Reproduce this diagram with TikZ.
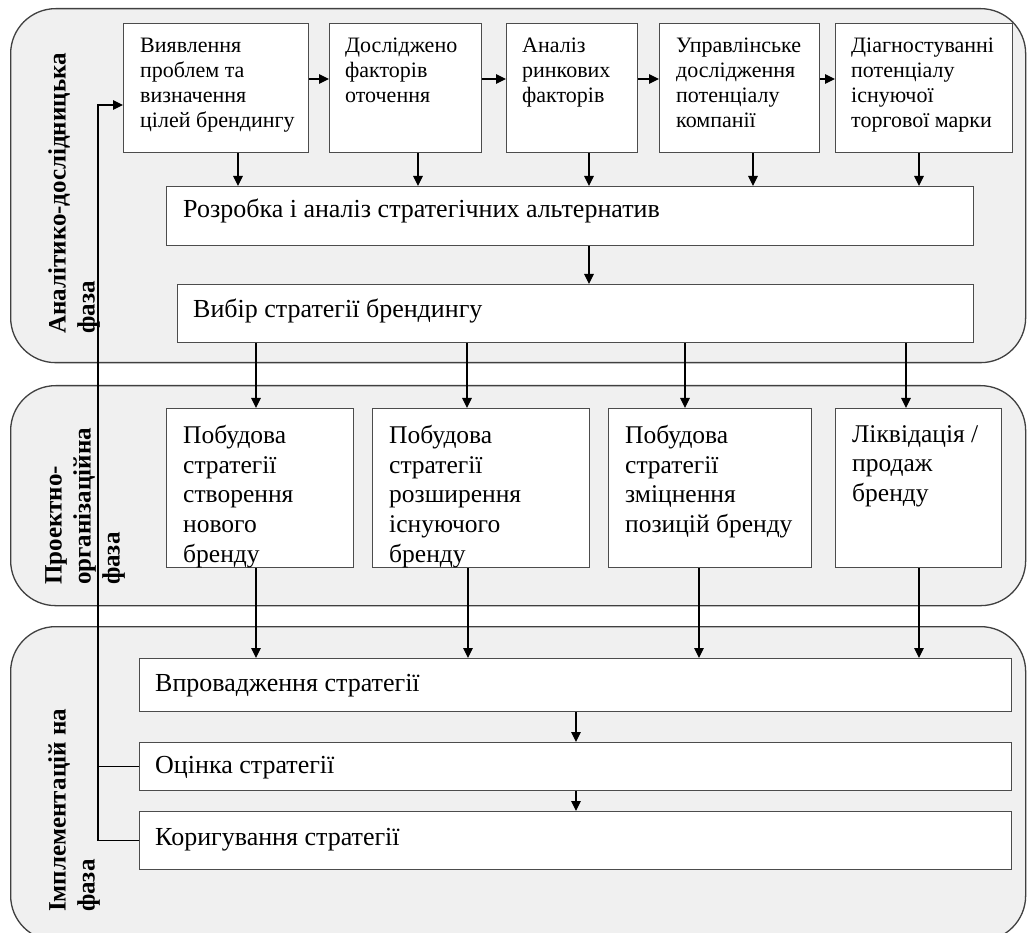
\documentclass[tikz,border=0pt]{standalone}
\usepackage{fontspec}
\setmainfont{Liberation Serif}
\usetikzlibrary{arrows.meta,calc}
\begin{document}
\begin{tikzpicture}[x=1pt,y=-1pt,
  panel/.style={draw=black!75, fill=black!6, line width=1.3pt, rounded corners=45pt, anchor=north west, inner sep=0pt},
  box/.style={draw=black!70, fill=white, line width=1.3pt, anchor=north west, inner sep=0pt},
  arr/.style={-{Triangle[length=10pt,width=9.5pt]}, line width=1.1pt, black},
  ln/.style={line width=1.1pt, black},
  ttxt/.style={anchor=north west, inner sep=0pt, align=left, font=\fontsize{22}{25}\selectfont},
  mtxt/.style={anchor=north west, inner sep=0pt, align=left, font=\fontsize{25.5}{29.7}\selectfont},
  btxt/.style={anchor=base west, inner sep=0pt, font=\fontsize{26}{30}\selectfont},
  lab/.style={rotate=90, anchor=north west, inner sep=0pt, align=left, font=\bfseries\fontsize{25}{29}\selectfont},
]
\useasboundingbox (0,0) rectangle (1029,933);
% panels
\node[panel, minimum width=1015pt, minimum height=354pt] (p1) at (10,8) {};
\node[panel, minimum width=1015pt, minimum height=220pt] (p2) at (10,385) {};
\node[panel, minimum width=1015pt, minimum height=314pt] (p3) at (10,626) {};
% phase labels
\node[lab] (l1) at (48,334) {Аналітико-дослідницька\\фаза};
\node[lab] (l2) at (45,585) {Проектно-\\організаційна\\фаза};
\node[lab] (l3) at (48,912) {Імплементацій на\\фаза};
% feedback loop
\coordinate (fbx) at (98,105);
% top row
\node[box, minimum width=185pt, minimum height=129pt] (b1) at (123,23) {};
\node[box, minimum width=152pt, minimum height=129pt] (b2) at (329,23) {};
\node[box, minimum width=131pt, minimum height=129pt] (b3) at (506,23) {};
\node[box, minimum width=160pt, minimum height=129pt] (b4) at (659,23) {};
\node[box, minimum width=177pt, minimum height=129pt] (b5) at (835,23) {};
\node[ttxt] (t1) at (140,38) {Виявлення\\проблем та\\визначення\\цілей брендингу};
\node[ttxt] (t2) at (345,38) {Досліджено\\факторів\\оточення};
\node[ttxt] (t3) at (522,38) {Аналіз\\ринкових\\факторів};
\node[ttxt] (t4) at (676,38) {Управлінське\\дослідження\\потенціалу\\компанії};
\node[ttxt] (t5) at (851,38) {Діагностуванні\\потенціалу\\існуючої\\торгової марки};
\node[box, minimum width=807pt, minimum height=59pt] (razr) at (166,186) {};
\node[btxt] (trazr) at (183,218) {Розробка і аналіз стратегічних альтернатив};
\node[box, minimum width=796pt, minimum height=58pt] (vyb) at (177,284) {};
\node[btxt] (tvyb) at (193,318) {Вибір стратегії брендингу};
% middle row
\node[box, minimum width=187pt, minimum height=159pt] (m1) at (166,408) {};
\node[box, minimum width=217pt, minimum height=159pt] (m2) at (372,408) {};
\node[box, minimum width=203pt, minimum height=159pt] (m3) at (608,408) {};
\node[box, minimum width=166pt, minimum height=159pt] (m4) at (835,408) {};
\node[mtxt] (tm1) at (183,425) {Побудова\\стратегії\\створення\\нового\\бренду};
\node[mtxt] (tm2) at (389,425) {Побудова\\стратегії\\розширення\\існуючого\\бренду};
\node[mtxt] (tm3) at (625,425) {Побудова\\стратегії\\зміцнення\\позицій бренду};
\node[mtxt] (tm4) at (852,425) {Ліквідація /\\продаж\\бренду};
% bottom
\node[box, minimum width=872pt, minimum height=53pt] (impl) at (139,658) {};
\node[box, minimum width=872pt, minimum height=48pt] (ocin) at (139,742) {};
\node[box, minimum width=872pt, minimum height=58pt] (kor) at (139,811) {};
\node[btxt] (timpl) at (155,691) {Впровадження стратегії};
\node[btxt] (tocin) at (155,773) {Оцінка стратегії};
\node[btxt] (tkor) at (155,845) {Коригування стратегії};
% connectors
\draw[arr] (kor.west) -| (fbx) -- (fbx -| b1.west);
\draw[ln] (ocin.west) -- (ocin.west -| fbx);
\foreach \a/\b in {b1/b2,b2/b3,b3/b4,b4/b5}
  \draw[arr] ($(\a.north east)+(0,56)$) -- ($(\b.north west)+(0,56)$);
\foreach \a/\d in {b1/115,b2/89,b3/83,b4/94,b5/84}
  \draw[arr] ([xshift=\d pt]\a.south west) -- ([xshift=\d pt]\a.south west |- razr.north);
\draw[arr] ([xshift=423pt]razr.south west) -- ([xshift=423pt]razr.south west |- vyb.north);
\foreach \m/\d in {m1/79,m2/290,m3/508,m4/729}
  \draw[arr] ([xshift=\d pt]vyb.south west) -- ([xshift=\d pt]vyb.south west |- \m.north);
\foreach \m/\d in {m1/90,m2/96,m3/91,m4/84}
  \draw[arr] ([xshift=\d pt]\m.south west) -- ([xshift=\d pt]\m.south west |- impl.north);
\draw[arr] ([xshift=437pt]impl.south west) -- ([xshift=437pt]impl.south west |- ocin.north);
\draw[arr] ([xshift=437pt]ocin.south west) -- ([xshift=437pt]ocin.south west |- kor.north);
\end{tikzpicture}
\end{document}
